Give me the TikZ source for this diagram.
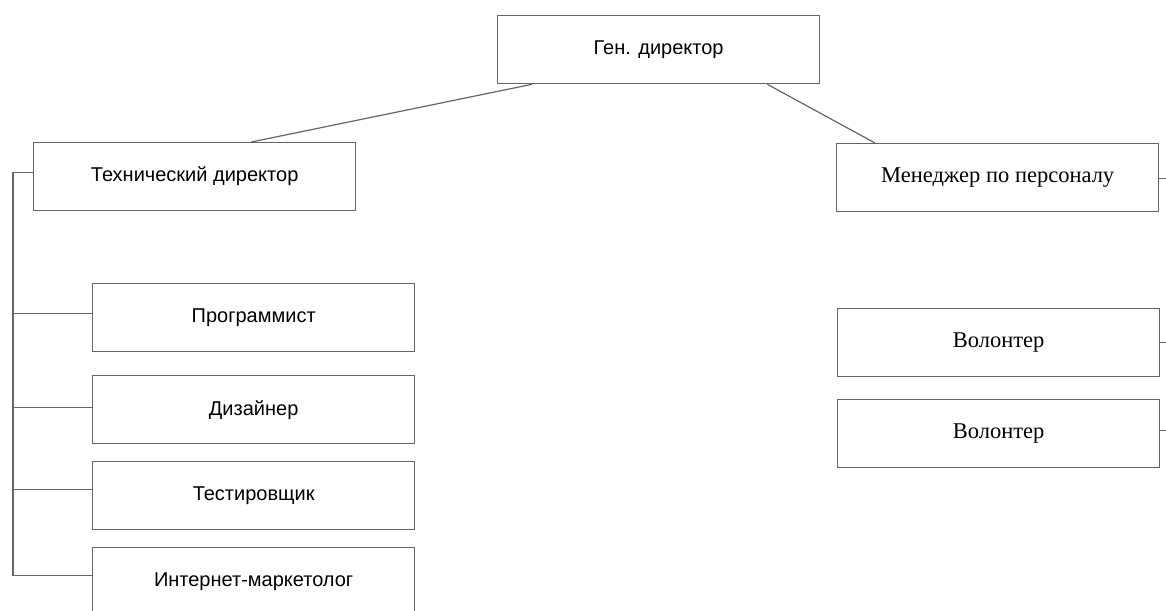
\documentclass[tikz,border=0pt]{standalone}
\usepackage{fontspec}
\setmainfont{Liberation Sans}
\newfontfamily\timesrm{Liberation Serif}
\usepackage{tikz}
\usetikzlibrary{positioning}

\begin{document}
\begin{tikzpicture}[x=1pt,y=-1pt,semithick,draw=black!70,
                    every node/.style={font=\fontsize{20}{24}\selectfont}]
  \tikzstyle{post}=[draw=black!60,line width=1.3pt,minimum width=322pt,
                    minimum height=68pt,anchor=north west,inner sep=0pt]
  \tikzstyle{serifpost}=[post,font=\timesrm\fontsize{22.5}{26}\selectfont]
  \tikzstyle{wire}=[draw=black!60,line width=1.2pt]

  \useasboundingbox (0,0) rectangle (1166,610);

  \node[post] (gen) at (497,15) {Ген. директор};
  \node[post] (tech) at (33,142) {Технический директор};
  \node[serifpost] (mgr) at (836,143) {Менеджер по персоналу};

  % left branch
  \node[post] (prog) at (92,283) {Программист};
  \node[post] (dsgn) at (92,375) {Дизайнер};
  \node[post] (test) at (92,461) {Тестировщик};
  \node[post] (inet) at (92,547) {Интернет-маркетолог};

  % right branch
  \node[serifpost] (vol1) at (837,308) {Волонтер};
  \node[serifpost] (vol2) at (837,399) {Волонтер};

  \coordinate (bus) at (13,0);
  \coordinate (rim) at (1166,0);

  \path[wire] ([xshift=35pt]gen.south west) edge ([xshift=-105pt]tech.north east)
              ([xshift=-53pt]gen.south east) edge ([xshift=39pt]mgr.north west);

  \draw[wire] ([yshift=4pt]tech.west) -- ([yshift=4pt]tech.west -| bus)
              -- ([yshift=6pt]inet.west -| bus) -- ([yshift=6pt]inet.west);
  \foreach \n/\dy in {prog/4,dsgn/2,test/6}
    \draw[wire] ([yshift=\dy pt]\n.west) -- ([yshift=\dy pt]\n.west -| bus);
  \foreach \n/\dy in {mgr/-1,vol1/0,vol2/3}
    \draw[wire] ([yshift=\dy pt]\n.east) -- ([yshift=\dy pt]\n.east -| rim);
\end{tikzpicture}
\end{document}
